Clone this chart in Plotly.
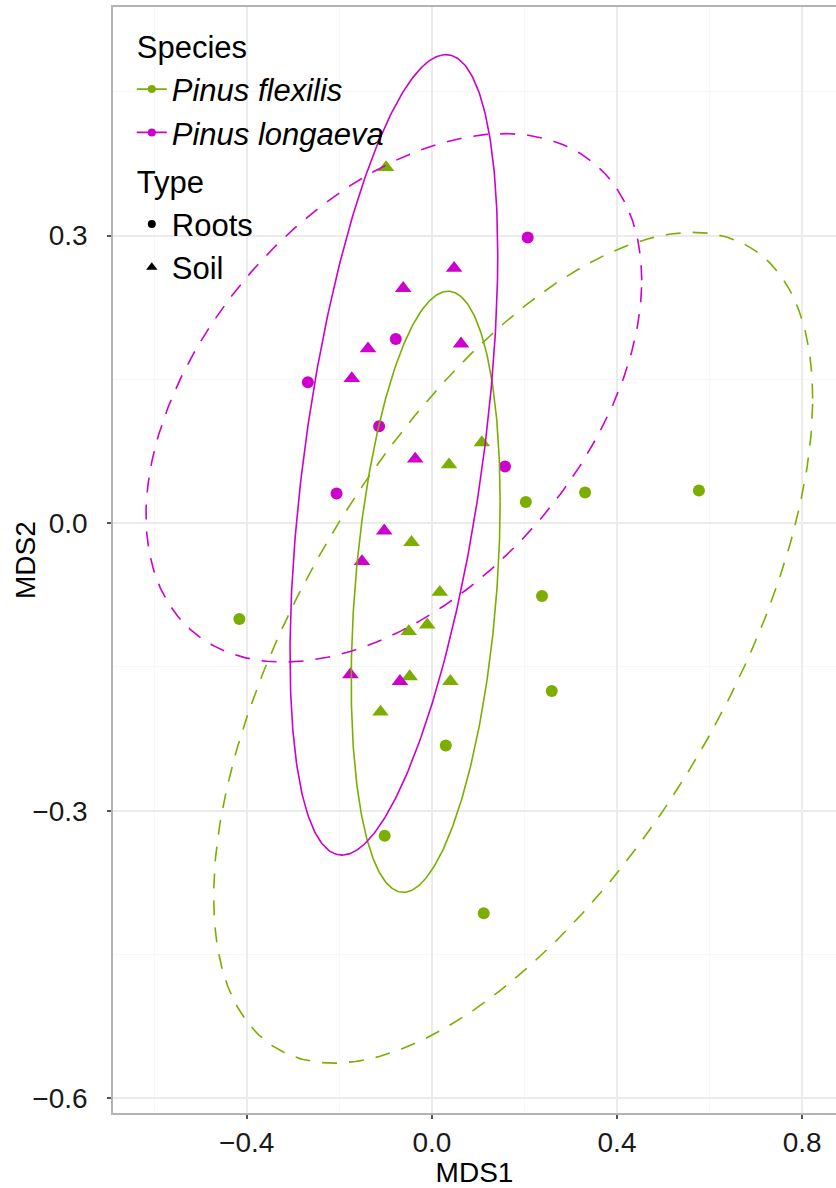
import numpy as np
import plotly.graph_objects as go

# NMDS site scores
flex_roots_x = [-0.416, 0.203, 0.331, 0.577, 0.238, 0.259, 0.030, -0.102, 0.112]
flex_roots_y = [-0.100, 0.022, 0.032, 0.034, -0.076, -0.175, -0.232, -0.326, -0.407]
flex_soil_x = [-0.099, 0.108, 0.037, -0.044, 0.017, -0.010, -0.050, -0.048, 0.040, -0.111]
flex_soil_y = [0.371, 0.084, 0.061, -0.020, -0.072, -0.106, -0.113, -0.160, -0.165, -0.197]
long_roots_x = [0.207, -0.078, -0.268, -0.114, 0.158, -0.206]
long_roots_y = [0.298, 0.192, 0.147, 0.101, 0.059, 0.031]
long_soil_x = [0.048, -0.062, -0.138, 0.063, -0.173, -0.036, -0.103, -0.151, -0.176, -0.069]
long_soil_y = [0.266, 0.245, 0.182, 0.187, 0.151, 0.067, -0.008, -0.040, -0.158, -0.165]

# 95% ellipses per species x sample type: centre, half-extents, correlation
ell_species = ["Pinus flexilis", "Pinus flexilis", "Pinus longaeva", "Pinus longaeva"]
ell_type = ["Roots", "Soil", "Roots", "Soil"]
ell_cx = [0.1756, -0.0134, -0.0821, -0.0821]
ell_cy = [-0.1300, -0.0716, 0.1307, 0.0712]
ell_rx = [0.6472, 0.1609, 0.5356, 0.2244]
ell_ry = [0.4333, 0.3135, 0.2756, 0.4175]
ell_rho = [0.60, 0.30, 0.445, 0.50]

species_names = ["Pinus flexilis", "Pinus longaeva"]
type_names = ["Roots", "Soil"]
x_ticks = [-0.4, 0.0, 0.4, 0.8]
x_ticktext = ["\u22120.4", "0.0", "0.4", "0.8"]
y_ticks = [-0.6, -0.3, 0.0, 0.3]
y_ticktext = ["\u22120.6", "\u22120.3", "0.0", "0.3"]

COLORS = {"Pinus flexilis": "#7CAE00", "Pinus longaeva": "#CD00CD"}
SYMBOLS = {"Roots": "circle", "Soil": "triangle-up"}
MSIZE = {"Roots": 12, "Soil": 14.5}
LEG_MSIZE = {"Roots": 8, "Soil": 10}
DASH = {"Roots": "15px,12px", "Soil": "solid"}
FONT = "Liberation Sans, Arial, sans-serif"

points = {
    ("Pinus flexilis", "Roots"): (flex_roots_x, flex_roots_y),
    ("Pinus flexilis", "Soil"): (flex_soil_x, flex_soil_y),
    ("Pinus longaeva", "Roots"): (long_roots_x, long_roots_y),
    ("Pinus longaeva", "Soil"): (long_soil_x, long_soil_y),
}

fig = go.Figure()

for (sp, ty), (xs, ys) in points.items():
    fig.add_trace(go.Scatter(
        x=xs, y=ys, mode="markers", showlegend=False,
        marker=dict(color=COLORS[sp], symbol=SYMBOLS[ty], size=MSIZE[ty],
                    line=dict(width=0)),
    ))

t = np.linspace(0, 2 * np.pi, 400)
for sp, ty, cx, cy, rx, ry, rho in zip(ell_species, ell_type, ell_cx, ell_cy, ell_rx, ell_ry, ell_rho):
    phi = np.arccos(rho)
    fig.add_trace(go.Scatter(
        x=cx + rx * np.cos(t), y=cy + ry * np.cos(t - phi),
        mode="lines", showlegend=False, hoverinfo="skip",
        line=dict(color=COLORS[sp], width=1.6, dash=DASH[ty]),
    ))

# legend entries
for sp in species_names:
    fig.add_trace(go.Scatter(
        x=[None], y=[None], mode="lines+markers", name=f"<i>{sp}</i>",
        legendgroup="species", legendgrouptitle=dict(text="Species"),
        line=dict(color=COLORS[sp], width=1.6),
        marker=dict(color=COLORS[sp], size=8, symbol="circle"),
    ))
for ty in type_names:
    fig.add_trace(go.Scatter(
        x=[None], y=[None], mode="markers", name=ty,
        legendgroup="type", legendgrouptitle=dict(text="Type"),
        marker=dict(color="black", size=LEG_MSIZE[ty], symbol=SYMBOLS[ty]),
    ))

axis_common = dict(
    showgrid=True, gridcolor="#EBEBEB", gridwidth=1.5,
    zeroline=False, showline=True, linecolor="#B3B3B3", linewidth=1.5,
    ticks="outside", ticklen=4, tickwidth=1.5, tickcolor="#555555",
    tickfont=dict(family=FONT, size=28, color="#1A1A1A"),
    title_font=dict(family=FONT, size=28, color="black"),
)

fig.update_xaxes(
    range=[-0.689, 0.8732], tickvals=x_ticks, ticktext=x_ticktext,
    minor=dict(tickvals=[-0.6, -0.2, 0.2, 0.6], showgrid=True, gridcolor="#F7F7F7", gridwidth=1, ticks=""),
    mirror=True, title_text="MDS1", title_standoff=4,
    **axis_common,
)
fig.update_yaxes(
    range=[-0.6153, 0.5384], tickvals=y_ticks, ticktext=y_ticktext,
    minor=dict(tickvals=[-0.45, -0.15, 0.15, 0.45], showgrid=True, gridcolor="#F7F7F7", gridwidth=1, ticks=""),
    ticklabelstandoff=14,
    **axis_common,
)

# y-axis title placed beside the tick labels
fig.add_annotation(
    text="MDS2", textangle=-90, showarrow=False,
    xref="paper", yref="paper", x=-0.1217, y=0.5, xanchor="center", yanchor="middle",
    font=dict(family=FONT, size=28, color="black"),
)

fig.update_layout(
    width=836, height=1188,
    margin=dict(l=113, r=0, t=7, b=75),
    paper_bgcolor="white", plot_bgcolor="white",
    font=dict(family=FONT, color="black"),
    legend=dict(
        x=0.026, y=0.989, xanchor="left", yanchor="top",
        bgcolor="rgba(255,255,255,0)",
        font=dict(family=FONT, size=31, color="black"),
        grouptitlefont=dict(family=FONT, size=31, color="black"),
        tracegroupgap=5, itemwidth=30,
    ),
)

fig.write_html("out.html")
